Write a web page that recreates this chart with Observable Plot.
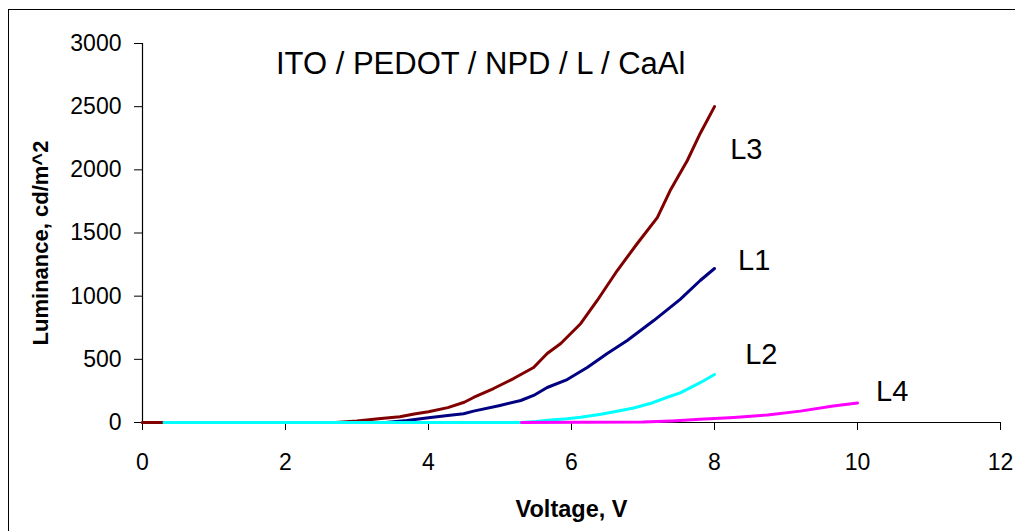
<!DOCTYPE html>
<html><head><meta charset="utf-8">
<script src="https://cdn.jsdelivr.net/npm/d3@7"></script>
<script src="https://cdn.jsdelivr.net/npm/@observablehq/plot@0.6"></script>
<style>
body{margin:0;background:#fff}
#chart{position:absolute;left:0;top:0}
#frame{position:absolute;left:8px;top:9px;width:1100px;height:600px;border-left:1.5px solid #000;border-top:1.5px solid #000;pointer-events:none}
</style>
</head><body><div id="chart"></div><div id="frame"></div>
<script>
// L1
const l1Volt = [0, 3.4, 3.7, 4.0, 4.27, 4.49, 4.63, 5.0, 5.29, 5.47, 5.66, 5.94, 6.22, 6.5, 6.78, 7.15, 7.52, 7.8, 8.0];
const l1Lum  = [0, 0, 15, 37, 55, 69, 90, 135, 174, 214, 277, 340, 435, 546, 649, 807, 975, 1124, 1219];
// L2
const l2Volt = [0.3, 5.3, 5.5, 5.75, 5.94, 6.13, 6.41, 6.6, 6.87, 7.1, 7.34, 7.52, 7.8, 8.0];
const l2Lum  = [0, 0, 8, 22, 30, 42, 66, 85, 115, 150, 200, 235, 315, 380];
// L3
const l3Volt = [0, 2.7, 3.0, 3.3, 3.6, 3.8, 4.0, 4.27, 4.5, 4.63, 4.91, 5.19, 5.47, 5.66, 5.85, 6.13, 6.36, 6.64, 6.92, 7.2, 7.38, 7.62, 7.8, 8.0];
const l3Lum  = [0, 0, 12, 30, 45, 68, 85, 118, 160, 198, 269, 348, 435, 546, 625, 784, 966, 1203, 1417, 1622, 1836, 2074, 2288, 2500];
// L4
const l4Volt = [5.3, 7.0, 7.4, 7.8, 8.27, 8.74, 9.2, 9.66, 10.0];
const l4Lum  = [0, 3, 12, 25, 40, 60, 90, 130, 155];

const seriesNames  = ["L1", "L3", "L2", "L4"];
const seriesColors = ["#000080", "#800000", "#00ffff", "#ff00ff"];
const seriesVolt = {L1: l1Volt, L2: l2Volt, L3: l3Volt, L4: l4Volt};
const seriesLum  = {L1: l1Lum, L2: l2Lum, L3: l3Lum, L4: l4Lum};

const labelNames = ["L3", "L1", "L2", "L4"];
const labelX = [8.22, 8.33, 8.43, 10.26];
const labelY = [2161, 1282, 538, 240];

const titleText = "ITO / PEDOT / NPD / L / CaAl";
const titleX = 4.73, titleY = 2836;

const xTicks = [0, 2, 4, 6, 8, 10, 12];
const yTicks = [0, 500, 1000, 1500, 2000, 2500, 3000];

const rows = [];
seriesNames.forEach((s) => {
  seriesVolt[s].forEach((v, i) => rows.push({series: s, v, lum: seriesLum[s][i]}));
});
const labels = labelNames.map((n, i) => ({n, x: labelX[i], y: labelY[i]}));

const chart = Plot.plot({
  width: 1015,
  height: 531,
  marginLeft: 142,
  marginRight: 15,
  marginTop: 43,
  marginBottom: 109,
  style: {fontFamily: "'Liberation Sans', Arial, sans-serif", background: "transparent", color: "#000"},
  x: {domain: [0, 12]},
  y: {domain: [0, 3000]},
  color: {domain: seriesNames, range: seriesColors},
  marks: [
    Plot.axisX({ticks: xTicks, tickSize: 8, tickPadding: 23, fontSize: 23, tickFormat: d3.format("d"), label: "Voltage, V", labelAnchor: "center", labelArrow: "none", labelOffset: 94}),
    Plot.axisY({ticks: yTicks, tickSize: 8, tickPadding: 13, fontSize: 23, tickFormat: d3.format("d"), label: null}),
    Plot.text(["Luminance, cd/m^2"], {frameAnchor: "left", rotate: -90, dx: -110, dy: 10, fontSize: 22, fontWeight: "bold", textAnchor: "middle", lineAnchor: "top"}),
    Plot.ruleY([0], {stroke: "#000", strokeWidth: 1.2}),
    Plot.ruleX([0], {stroke: "#000", strokeWidth: 1.2}),
    Plot.line(rows, {x: "v", y: "lum", z: "series", stroke: "series", strokeWidth: 3}),
    Plot.text(labels, {x: "x", y: "y", text: "n", textAnchor: "start", lineAnchor: "middle", fontSize: 29}),
    Plot.text([titleText], {x: () => titleX, y: () => titleY, textAnchor: "middle", lineAnchor: "middle", fontSize: 31})
  ]
});
chart.querySelectorAll("g[aria-label='x-axis label'] text").forEach(t => { t.setAttribute("font-weight", "bold"); t.setAttribute("font-size", 23.5); });
document.getElementById("chart").appendChild(chart);
</script>
</body></html>
